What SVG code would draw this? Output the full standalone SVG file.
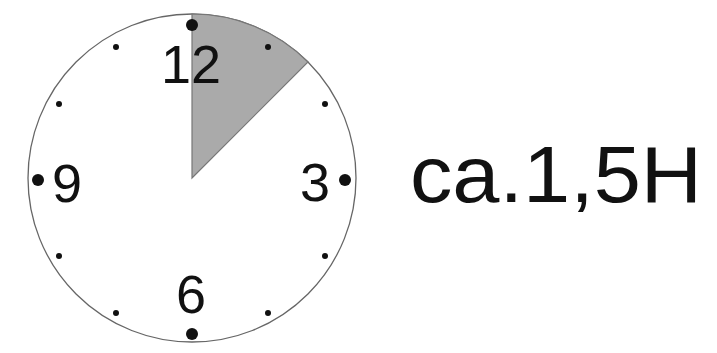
<svg xmlns="http://www.w3.org/2000/svg" width="717" height="353" viewBox="0 0 717 353">
<style>
.num{font-family:"Liberation Sans",Arial,sans-serif;font-size:54px;fill:#111;text-anchor:middle}
.big{fill:#111}
.small{fill:#111}
</style>
<rect width="717" height="353" fill="#fff"/>
<g id="clock">
<circle cx="192" cy="178" r="164" fill="#fff" stroke="#666" stroke-width="1.3"/>
<path d="M192,178 L192,14 A164,164 0 0 1 308,62 Z" fill="#aaa" stroke="#777" stroke-width="1.2"/>
<g id="bigdots" class="big">
<circle cx="192" cy="25" r="6"/>
<circle cx="345" cy="180" r="6"/>
<circle cx="192" cy="334" r="6"/>
<circle cx="38" cy="180" r="6"/>
</g>
<g id="smalldots" class="small">
<circle cx="268" cy="47" r="3"/>
<circle cx="325" cy="104" r="3"/>
<circle cx="325" cy="256" r="3"/>
<circle cx="268" cy="313" r="3"/>
<circle cx="116" cy="313" r="3"/>
<circle cx="59" cy="256" r="3"/>
<circle cx="59" cy="104" r="3"/>
<circle cx="116" cy="47" r="3"/>
</g>
<text class="num" x="191" y="83">12</text>
<text class="num" x="67" y="202">9</text>
<text class="num" x="315" y="201">3</text>
<text class="num" x="191" y="313">6</text>
</g>
<g id="label">
<text x="410" y="202" font-family="Liberation Sans,Arial,sans-serif" font-size="80" fill="#111" textLength="292" lengthAdjust="spacingAndGlyphs">ca.1,5H</text>
</g>
</svg>
